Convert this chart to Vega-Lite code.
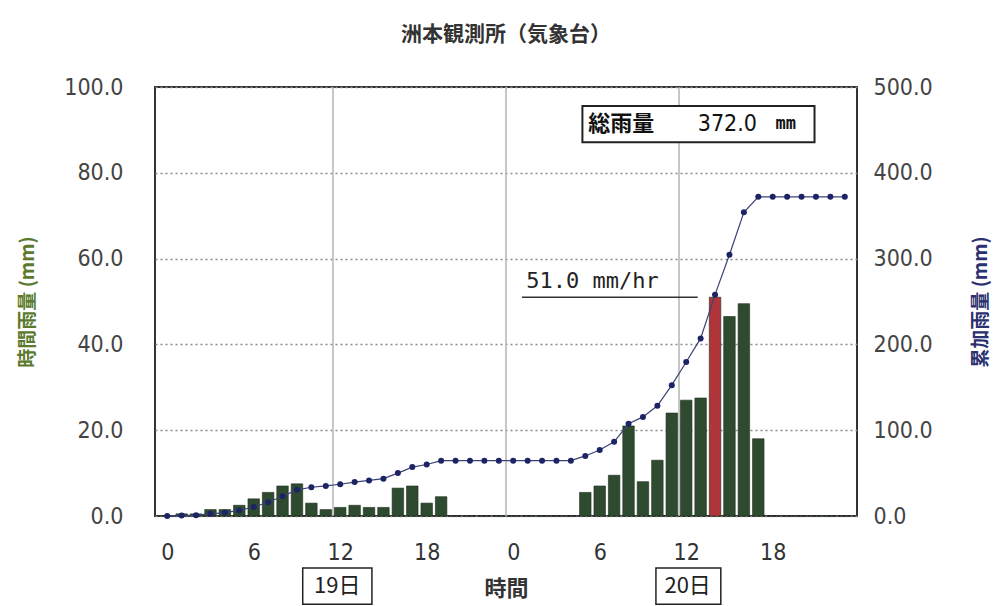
{
  "$schema": "https://vega.github.io/schema/vega-lite/v6.json",
  "description": "洲本観測所 hourly and cumulative rainfall, 19-20日",
  "autosize": "none",
  "padding": {"left": 155, "top": 87, "right": 141, "bottom": 90},
  "width": 702,
  "height": 429,
  "background": "white",
  "config": {
    "view": {"stroke": "#333333", "strokeWidth": 2},
    "font": "Noto Sans CJK JP"
  },
  "title": {
    "text": "洲本観測所（気象台）",
    "font": "Noto Sans CJK JP",
    "fontSize": 21,
    "fontWeight": "bold",
    "color": "#333333",
    "offset": 31
  },
  "datasets": {
    "rain": [
      {"hour": 0, "rain": 0, "cum": 0},
      {"hour": 1, "rain": 0.5, "cum": 0.5},
      {"hour": 2, "rain": 0.5, "cum": 1.0},
      {"hour": 3, "rain": 1.5, "cum": 2.5},
      {"hour": 4, "rain": 1.5, "cum": 4.0},
      {"hour": 5, "rain": 2.5, "cum": 6.5},
      {"hour": 6, "rain": 4.0, "cum": 10.5},
      {"hour": 7, "rain": 5.5, "cum": 16.0},
      {"hour": 8, "rain": 7.0, "cum": 23.0},
      {"hour": 9, "rain": 7.5, "cum": 30.5},
      {"hour": 10, "rain": 3.0, "cum": 33.5},
      {"hour": 11, "rain": 1.5, "cum": 35.0},
      {"hour": 12, "rain": 2.0, "cum": 37.0},
      {"hour": 13, "rain": 2.5, "cum": 39.5},
      {"hour": 14, "rain": 2.0, "cum": 41.5},
      {"hour": 15, "rain": 2.0, "cum": 43.5},
      {"hour": 16, "rain": 6.5, "cum": 50.0},
      {"hour": 17, "rain": 7.0, "cum": 57.0},
      {"hour": 18, "rain": 3.0, "cum": 60.0},
      {"hour": 19, "rain": 4.5, "cum": 64.5},
      {"hour": 20, "rain": 0, "cum": 64.5},
      {"hour": 21, "rain": 0, "cum": 64.5},
      {"hour": 22, "rain": 0, "cum": 64.5},
      {"hour": 23, "rain": 0, "cum": 64.5},
      {"hour": 24, "rain": 0, "cum": 64.5},
      {"hour": 25, "rain": 0, "cum": 64.5},
      {"hour": 26, "rain": 0, "cum": 64.5},
      {"hour": 27, "rain": 0, "cum": 64.5},
      {"hour": 28, "rain": 0, "cum": 64.5},
      {"hour": 29, "rain": 5.5, "cum": 70.0},
      {"hour": 30, "rain": 7.0, "cum": 77.0},
      {"hour": 31, "rain": 9.5, "cum": 86.5},
      {"hour": 32, "rain": 21.0, "cum": 107.5},
      {"hour": 33, "rain": 8.0, "cum": 115.5},
      {"hour": 34, "rain": 13.0, "cum": 128.5},
      {"hour": 35, "rain": 24.0, "cum": 152.5},
      {"hour": 36, "rain": 27.0, "cum": 179.5},
      {"hour": 37, "rain": 27.5, "cum": 207.0},
      {"hour": 38, "rain": 51.0, "cum": 258.0},
      {"hour": 39, "rain": 46.5, "cum": 304.5},
      {"hour": 40, "rain": 49.5, "cum": 354.0},
      {"hour": 41, "rain": 18.0, "cum": 372.0},
      {"hour": 42, "rain": 0, "cum": 372.0},
      {"hour": 43, "rain": 0, "cum": 372.0},
      {"hour": 44, "rain": 0, "cum": 372.0},
      {"hour": 45, "rain": 0, "cum": 372.0},
      {"hour": 46, "rain": 0, "cum": 372.0},
      {"hour": 47, "rain": 0, "cum": 372.0}
    ],
    "vgrid": [{"hour": 11.5}, {"hour": 23.5}, {"hour": 35.5}],
    "days": [
      {"day": "19日", "mid": 11.8, "x0": 9.4, "x1": 14.2},
      {"day": "20日", "mid": 36.1, "x0": 33.9, "x1": 38.4}
    ]
  },
  "resolve": {"scale": {"y": "independent"}},
  "layer": [
    {
      "data": {"name": "vgrid"},
      "mark": {"type": "rule", "color": "#b5b5b5", "strokeWidth": 1.5},
      "encoding": {
        "x": {
          "field": "hour",
          "type": "quantitative",
          "scale": {"domain": [-0.5, 47.5], "nice": false, "zero": false},
          "axis": {
            "values": [0, 6, 12, 18, 24, 30, 36, 42],
            "labelExpr": "'' + (datum.value % 24)",
            "grid": false,
            "ticks": false,
            "domain": false,
            "labelFont": "Liberation Sans Narrow, DejaVu Sans Condensed, sans-serif",
            "labelFontSize": 23,
            "labelColor": "#333333",
            "labelPadding": 25,
            "title": "時間",
            "titleFont": "Noto Sans CJK JP",
            "titleFontSize": 22,
            "titleFontWeight": "bold",
            "titleColor": "#333333",
            "titlePadding": 14
          }
        }
      }
    },
    {
      "data": {"name": "rain"},
      "mark": {"type": "bar", "width": 11.5, "stroke": "#1d2e1d", "strokeWidth": 0.6},
      "encoding": {
        "x": {"field": "hour", "type": "quantitative"},
        "y": {
          "field": "rain",
          "type": "quantitative",
          "scale": {"domain": [0, 100], "nice": false},
          "axis": {
            "values": [0, 20, 40, 60, 80, 100],
            "format": ".1f",
            "grid": true,
            "gridDash": [2, 3],
            "gridColor": "#8a8a8a",
            "gridWidth": 1.5,
            "ticks": false,
            "domain": false,
            "labelFont": "Liberation Sans Narrow, DejaVu Sans Condensed, sans-serif",
            "labelFontSize": 23,
            "labelColor": "#444444",
            "labelPadding": 32,
            "title": "時間雨量 (mm)",
            "titleFont": "Noto Sans CJK JP",
            "titleFontSize": 19,
            "titleFontWeight": "bold",
            "titleColor": "#5b7a2e",
            "titlePadding": 26
          }
        },
        "color": {
          "condition": {"test": "datum.rain === 51", "value": "#b0353a"},
          "value": "#2e4b2f"
        }
      }
    },
    {
      "data": {"name": "rain"},
      "mark": {
        "type": "line",
        "color": "#3a4274",
        "strokeWidth": 1.2,
        "point": {"filled": true, "size": 36, "color": "#1c2466"}
      },
      "encoding": {
        "x": {"field": "hour", "type": "quantitative"},
        "y": {
          "field": "cum",
          "type": "quantitative",
          "scale": {"domain": [0, 500], "nice": false},
          "axis": {
            "orient": "right",
            "values": [0, 100, 200, 300, 400, 500],
            "format": ".1f",
            "grid": false,
            "ticks": false,
            "domain": false,
            "labelFont": "Liberation Sans Narrow, DejaVu Sans Condensed, sans-serif",
            "labelFontSize": 23,
            "labelColor": "#444444",
            "labelPadding": 16,
            "title": "累加雨量 (mm)",
            "titleAngle": 270,
            "titleFont": "Noto Sans CJK JP",
            "titleFontSize": 19,
            "titleFontWeight": "bold",
            "titleColor": "#2b3070",
            "titlePadding": 58
          }
        }
      }
    },
    {
      "data": {"values": [{"label": "51.0 mm/hr"}]},
      "layer": [
        {
          "mark": {"type": "rule", "color": "#333333", "strokeWidth": 1.5},
          "encoding": {
            "x": {"datum": 24.6, "type": "quantitative"},
            "x2": {"datum": 36.8},
            "y": {"datum": 51, "type": "quantitative", "scale": {"domain": [0, 100], "nice": false}, "axis": null}
          }
        },
        {
          "mark": {"type": "text", "align": "left", "baseline": "bottom", "dy": -4, "fontSize": 22, "font": "DejaVu Sans Mono", "color": "#222222"},
          "encoding": {
            "x": {"datum": 24.9, "type": "quantitative"},
            "y": {"datum": 51, "type": "quantitative", "scale": {"domain": [0, 100], "nice": false}, "axis": null},
            "text": {"field": "label"}
          }
        }
      ]
    },
    {
      "data": {"values": [{"a": "総雨量", "b": "372.0", "c": "mm"}]},
      "layer": [
        {
          "mark": {"type": "rect", "fill": "white", "stroke": "#222222", "strokeWidth": 2},
          "encoding": {
            "x": {"datum": 28.8, "type": "quantitative"},
            "x2": {"datum": 44.9},
            "y": {"datum": 95.6, "type": "quantitative", "scale": {"domain": [0, 100], "nice": false}, "axis": null},
            "y2": {"datum": 87.1}
          }
        },
        {
          "mark": {"type": "text", "align": "left", "baseline": "middle", "fontSize": 22, "fontWeight": "bold", "font": "Noto Sans CJK JP", "color": "#111111"},
          "encoding": {
            "x": {"datum": 29.2, "type": "quantitative"},
            "y": {"datum": 91.4, "type": "quantitative", "scale": {"domain": [0, 100], "nice": false}, "axis": null},
            "text": {"field": "a"}
          }
        },
        {
          "mark": {"type": "text", "align": "left", "baseline": "middle", "fontSize": 23, "font": "Liberation Sans Narrow, DejaVu Sans Condensed, sans-serif", "color": "#111111"},
          "encoding": {
            "x": {"datum": 36.8, "type": "quantitative"},
            "y": {"datum": 91.4, "type": "quantitative", "scale": {"domain": [0, 100], "nice": false}, "axis": null},
            "text": {"field": "b"}
          }
        },
        {
          "mark": {"type": "text", "align": "left", "baseline": "middle", "fontSize": 17, "fontWeight": "bold", "font": "DejaVu Sans Mono", "color": "#111111"},
          "encoding": {
            "x": {"datum": 42.2, "type": "quantitative"},
            "y": {"datum": 91.4, "type": "quantitative", "scale": {"domain": [0, 100], "nice": false}, "axis": null},
            "text": {"field": "c"}
          }
        }
      ]
    },
    {
      "data": {"name": "days"},
      "layer": [
        {
          "mark": {"type": "rect", "fill": "white", "stroke": "#222222", "strokeWidth": 1.5},
          "encoding": {
            "x": {"field": "x0", "type": "quantitative"},
            "x2": {"field": "x1"},
            "y": {"datum": -12.1, "type": "quantitative", "scale": {"domain": [0, 100], "nice": false}, "axis": null},
            "y2": {"datum": -20.6}
          }
        },
        {
          "mark": {"type": "text", "align": "center", "baseline": "middle", "fontSize": 22, "font": "Noto Sans CJK JP", "color": "#222222"},
          "encoding": {
            "x": {"field": "mid", "type": "quantitative"},
            "y": {"datum": -16.4, "type": "quantitative", "scale": {"domain": [0, 100], "nice": false}, "axis": null},
            "text": {"field": "day"}
          }
        }
      ]
    }
  ]
}
